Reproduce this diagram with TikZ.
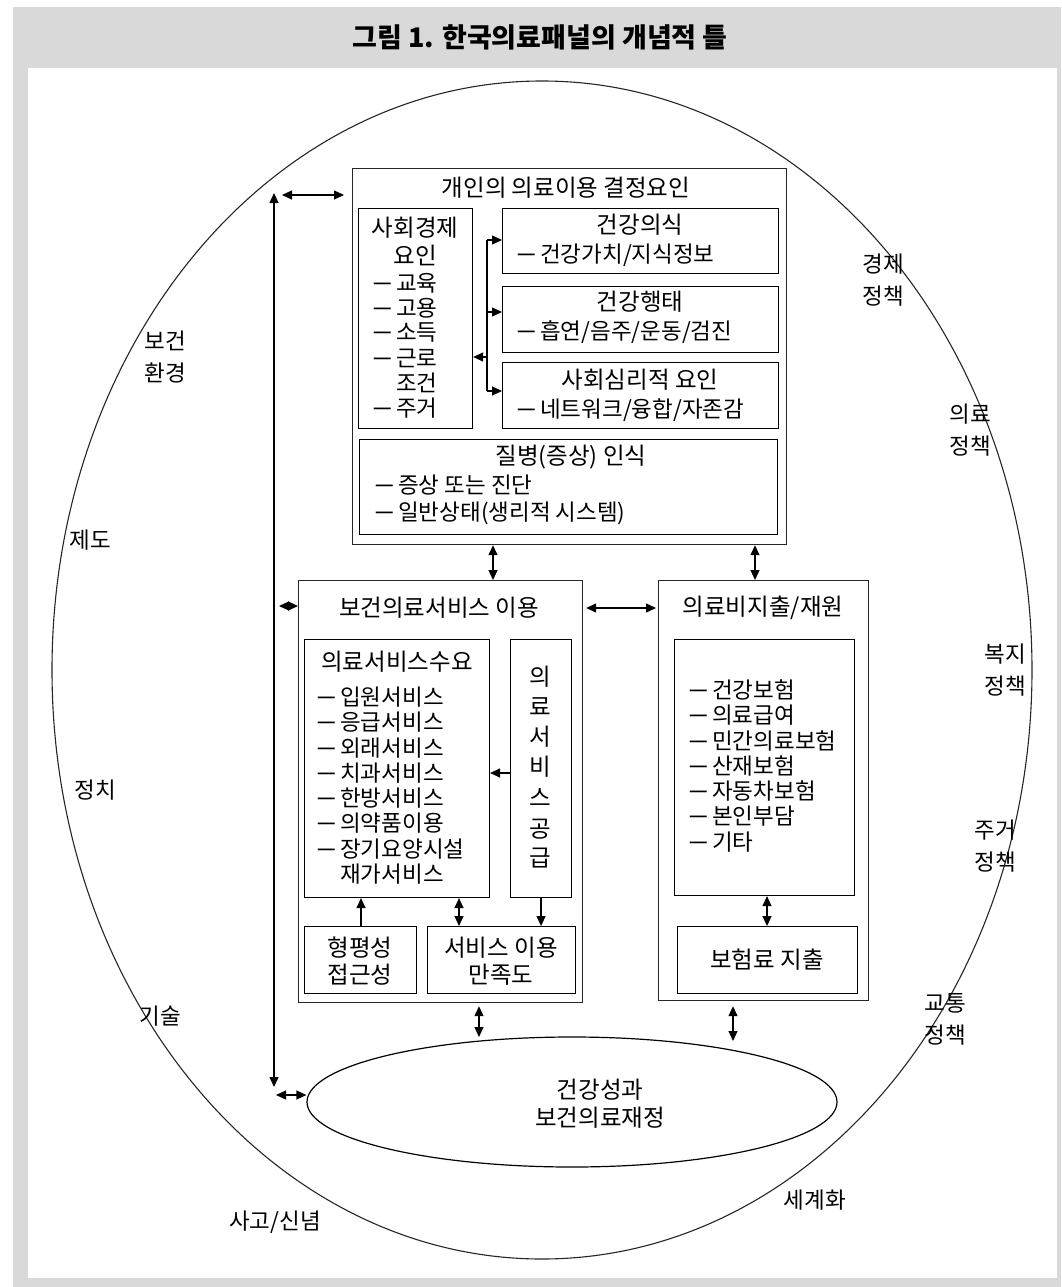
\documentclass[tikz,border=0pt]{standalone}
\usepackage{fontspec}
\usepackage{graphicx}
\setmainfont{Noto Sans CJK KR}
\usetikzlibrary{arrows.meta,shapes.geometric}
\definecolor{panelgray}{RGB}{217,217,217}
\newcommand{\itm}[1]{\makebox[24pt][l]{\scalebox{1.7}[1.2]{–}}#1}
\newcommand{\ind}[1]{\makebox[24pt][l]{}#1}
\begin{document}
\begin{tikzpicture}[x=1pt,y=-1pt,
  box/.style={draw=black, line width=1.1pt, anchor=north west, inner sep=0pt},
  obox/.style={draw=black!85, line width=1.2pt, anchor=north west, inner sep=0pt},
  hd/.style={inner sep=0pt, font=\fontsize{23.5}{27}\selectfont},
  itx/.style={inner sep=0pt, anchor=west, font=\fontsize{22.5}{26}\selectfont},
  lab/.style={inner sep=0pt, align=center, font=\fontsize{22.5}{32}\selectfont},
  ln/.style={line width=1.2pt},
  arr/.style={line width=1.2pt, -{Triangle[length=10pt,width=9pt]}},
  dbl/.style={line width=1.2pt, {Triangle[length=10pt,width=9pt]}-{Triangle[length=10pt,width=9pt]}}]
\useasboundingbox (0,0) rectangle (1061,1287);
\fill[white] (0,0) rectangle (1061,1287);
\fill[panelgray] (13,7) rectangle (1061,1287);
\fill[white] (28,68) rectangle (1057,1278);
\node[inner sep=0pt, font=\bfseries\fontsize{27}{30}\selectfont] (title) at (540,37) {그림 1. 한국의료패널의 개념적 틀};

% outer ellipse
\draw[line width=1.1pt, black!85] (542,670) ellipse [x radius=490, y radius=589];

% outer labels
\node[lab] (l1) at (165,357) {보건\\환경};
\node[lab] (l2) at (90,540) {제도};
\node[lab] (l3) at (95,790) {정치};
\node[lab] (l4) at (160,1016) {기술};
\node[lab] (l5) at (275,1222) {사고/신념};
\node[lab] (l6) at (815,1200) {세계화};
\node[lab] (r1) at (883,280) {경제\\정책};
\node[lab] (r2) at (970,430) {의료\\정책};
\node[lab] (r3) at (1005,670) {복지\\정책};
\node[lab] (r4) at (995,846) {주거\\정책};
\node[lab] (r5) at (945,1019) {교통\\정책};

% top box
\node[obox, minimum width=434pt, minimum height=376pt] (ind) at (352,168) {};
\node[hd] (indt) at (566,188) {개인의 의료이용 결정요인};
\node[box, minimum width=114pt, minimum height=220pt] (se) at (358,208) {};
\node[hd] (set1) at (415,228) {사회경제};
\node[hd] (set2) at (415,255) {요인};
\node[itx] (se1) at (372,283) {\itm{교육}};
\node[itx] (se2) at (372,308) {\itm{고용}};
\node[itx] (se3) at (372,333) {\itm{소득}};
\node[itx] (se4) at (372,358) {\itm{근로}};
\node[itx] (se5) at (372,383) {\ind{조건}};
\node[itx] (se6) at (372,408) {\itm{주거}};

\node[box, minimum width=276pt, minimum height=65pt] (hc) at (502,208) {};
\node[hd] (hct) at (640,225) {건강의식};
\node[itx] (hc1) at (516,255) {\itm{건강가치/지식정보}};
\node[box, minimum width=276pt, minimum height=66pt] (hb) at (502,286) {};
\node[hd] (hbt) at (640,302) {건강행태};
\node[itx] (hb1) at (516,332) {\itm{흡연/음주/운동/검진}};
\node[box, minimum width=276pt, minimum height=66pt] (ps) at (502,362) {};
\node[hd] (pst) at (640,380) {사회심리적 요인};
\node[itx] (ps1) at (516,410) {\itm{네트워크/융합/자존감}};

\node[box, minimum width=418pt, minimum height=95pt] (ill) at (359,439) {};
\node[hd] (illt) at (571,457) {질병(증상) 인식};
\node[itx] (il1) at (374,485) {\itm{증상 또는 진단}};
\node[itx] (il2) at (374,513) {\itm{일반상태(생리적 시스템)}};

\coordinate (j1) at (487,240);
\coordinate (j2) at (487,312);
\coordinate (j3) at (487,391);
\coordinate (j4) at (487,357);
\draw[ln] (j1) -- (j3);
\draw[arr] (j1) -- (j1 -| hc.west);
\draw[arr] (j2) -- (j2 -| hb.west);
\draw[arr] (j3) -- (j3 -| ps.west);
\draw[arr] (j4) -- (j4 -| se.east);

% service box
\node[obox, minimum width=284pt, minimum height=422pt] (svc) at (298,580) {};
\node[hd] (svct) at (439,608) {보건의료서비스 이용};
\node[box, minimum width=185pt, minimum height=258pt] (dem) at (304,639) {};
\node[hd] (demt) at (397,662) {의료서비스수요};
\node[itx] (d1) at (316,697) {\itm{입원서비스}};
\node[itx] (d2) at (316,722.3) {\itm{응급서비스}};
\node[itx] (d3) at (316,747.6) {\itm{외래서비스}};
\node[itx] (d4) at (316,772.9) {\itm{치과서비스}};
\node[itx] (d5) at (316,798.2) {\itm{한방서비스}};
\node[itx] (d6) at (316,823.5) {\itm{의약품이용}};
\node[itx] (d7) at (316,848.8) {\itm{장기요양시설}};
\node[itx] (d8) at (316,874.1) {\ind{재가서비스}};
\node[box, minimum width=61pt, minimum height=258pt] (sup) at (510,639) {};
\node[hd] (s1) at (540.5,677) {의};
\node[hd] (s2) at (540.5,707) {료};
\node[hd] (s3) at (540.5,737) {서};
\node[hd] (s4) at (540.5,767) {비};
\node[hd] (s5) at (540.5,798) {스};
\node[hd] (s6) at (540.5,829) {공};
\node[hd] (s7) at (540.5,858) {급};
\node[box, minimum width=112pt, minimum height=67pt] (eq) at (304,926) {};
\node[hd] (eq1) at (360,948) {형평성};
\node[hd] (eq2) at (360,975) {접근성};
\node[box, minimum width=148pt, minimum height=67pt] (sat) at (427,926) {};
\node[hd] (sa1) at (501,948) {서비스 이용};
\node[hd] (sa2) at (501,975) {만족도};

\coordinate (v3) at (361,0);
\coordinate (v4) at (459,0);
\coordinate (v5) at (0,773);
\draw[arr] (v3 |- eq.north) -- (v3 |- dem.south);
\draw[dbl] (v4 |- dem.south) -- (v4 |- sat.north);
\draw[arr] (sup.south) -- (sup.south |- sat.north);
\draw[arr] (v5 -| sup.west) -- (v5 -| dem.east);

% finance box
\node[obox, minimum width=210pt, minimum height=420pt] (fin) at (658,580) {};
\node[hd] (fint) at (763,608) {의료비지출/재원};
\node[box, minimum width=180pt, minimum height=256pt] (ins) at (674,639) {};
\node[itx] (i1) at (688,690) {\itm{건강보험}};
\node[itx] (i2) at (688,715.3) {\itm{의료급여}};
\node[itx] (i3) at (688,740.6) {\itm{민간의료보험}};
\node[itx] (i4) at (688,765.9) {\itm{산재보험}};
\node[itx] (i5) at (688,791.2) {\itm{자동차보험}};
\node[itx] (i6) at (688,816.5) {\itm{본인부담}};
\node[itx] (i7) at (688,841.8) {\itm{기타}};
\node[box, minimum width=180pt, minimum height=67pt] (prem) at (677,926) {};
\node[hd] (premt) at (767,960) {보험료 지출};
\coordinate (v6) at (767,0);
\draw[dbl] (v6 |- ins.south) -- (v6 |- prem.north);

% health outcome ellipse
\node[draw=black, line width=1.2pt, ellipse, inner sep=0pt, minimum width=530pt, minimum height=130pt] (hlth) at (572,1102) {};
\node[hd] (ht1) at (600,1090) {건강성과};
\node[hd] (ht2) at (600,1118) {보건의료재정};

% connectors between blocks
\coordinate (v1) at (493,0);
\coordinate (v2) at (755,0);
\draw[dbl] (v1 |- ind.south) -- (v1 |- svc.north);
\draw[dbl] (v2 |- ind.south) -- (v2 |- fin.north);
\coordinate (m) at (620,608);
\draw[dbl, shorten <=3pt, shorten >=2pt] (m -| svc.east) -- (m -| fin.west);
\coordinate (v7) at (479,1037);
\coordinate (v8) at (733,1041);
\draw[dbl, shorten <=3pt] (v7 |- svc.south) -- (v7);
\draw[dbl, shorten <=5pt] (v8 |- fin.south) -- (v8);

\coordinate (vt) at (274,193);
\coordinate (vb) at (274,1087);
\draw[dbl] (vt) -- (vb);
\coordinate (h1) at (282,195);
\coordinate (h2) at (279,606);
\coordinate (h3) at (276,1095);
\draw[dbl, shorten >=8pt] (h1) -- (h1 -| ind.west);
\draw[dbl] (h2) -- (h2 -| svc.west);
\draw[dbl] (h3) -- (h3 -| hlth.west);
\end{tikzpicture}
\end{document}
